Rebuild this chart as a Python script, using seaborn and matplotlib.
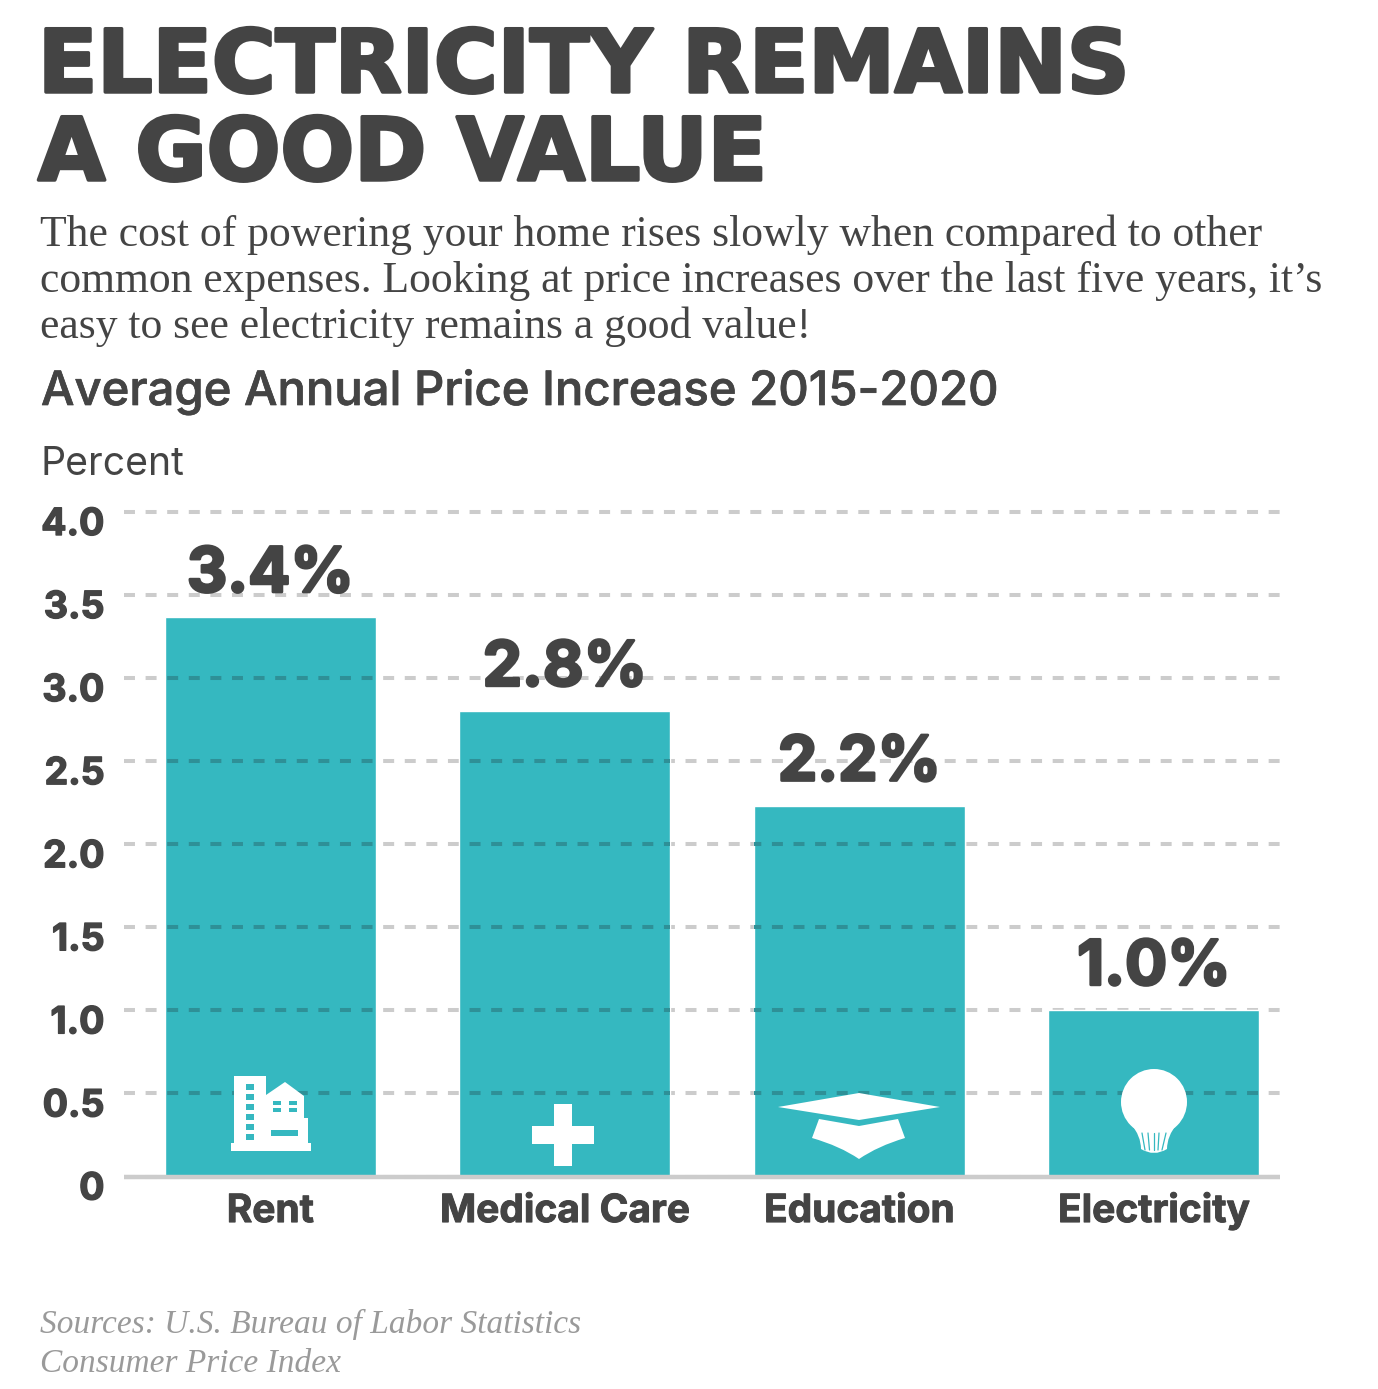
import numpy as np
import pandas as pd
import matplotlib
matplotlib.use('Agg')
import matplotlib.pyplot as plt
import matplotlib.patheffects as pe
import seaborn as sns
from matplotlib.patches import Circle, PathPatch, Polygon, Rectangle
from matplotlib.path import Path
from matplotlib.transforms import Affine2D, ScaledTranslation

categories = ['Rent', 'Medical Care', 'Education', 'Electricity']
increase = [3.365, 2.8, 2.23, 1.0]
value_labels = ['3.4%', '2.8%', '2.2%', '1.0%']
y_ticks = [0, 0.5, 1.0, 1.5, 2.0, 2.5, 3.0, 3.5, 4.0]
y_tick_labels = ['0', '0.5', '1.0', '1.5', '2.0', '2.5', '3.0', '3.5', '4.0']

title_lines = ['ELECTRICITY REMAINS', 'A GOOD VALUE']
intro_lines = [
    'The cost of powering your home rises slowly when compared to other',
    'common expenses. Looking at price increases over the last five years, it\u2019s',
    'easy to see electricity remains a good value!',
]
heading = 'Average Annual Price Increase 2015-2020'
unit = 'Percent'
source_lines = ['Sources: U.S. Bureau of Labor Statistics', 'Consumer Price Index']

W, H = 1378, 1389
TEAL = '#35b8c0'
TEAL_DARK = '#2e9097'
GREY = '#cccccc'
INK = '#444444'
SANS = 'Inter'
SERIF = 'Liberation Serif'
X_RANGE = (-0.4966, 3.4284)

sns.set_theme(style='white')
plt.rcParams['font.family'] = [SANS, 'DejaVu Sans']
plt.rcParams['lines.scale_dashes'] = False
plt.rcParams['lines.dash_capstyle'] = 'butt'


def heavier(width):
    # the installed bold is lighter than the original face
    return [pe.withStroke(linewidth=width, foreground=INK)]


fig = plt.figure(figsize=(W / 100, H / 100), dpi=100, facecolor='white')
ax = fig.add_axes([124 / W, 1 - 1176.5 / H, (1280 - 124) / W, (1176.5 - 512) / H])

df = pd.DataFrame({'category': categories, 'increase': increase})
sns.barplot(data=df, x='category', y='increase', color=TEAL, saturation=1,
            width=0.716, ax=ax, zorder=2)

ax.set_xlim(*X_RANGE)
ax.set_ylim(0, 4)
ax.set_xlabel('')
ax.set_ylabel('')

dash = (0, (7.9, 7.65))
ax.set_yticks(y_ticks)
ax.set_yticklabels(y_tick_labels)
ax.grid(axis='y', color=GREY, lw=2.9, ls=dash, zorder=1)
ax.set_axisbelow(True)
for line in ax.get_ygridlines():
    line.set_clip_on(False)

# grid shows through the bars in a darker tone
for bar in ax.patches:
    for t in y_ticks[1:]:
        if t < bar.get_height():
            seg, = ax.plot(X_RANGE, [t, t], color=TEAL_DARK, lw=2.9, ls=dash, zorder=3)
            seg.set_clip_path(bar)

for name, spine in ax.spines.items():
    spine.set_visible(name == 'bottom')
ax.spines['bottom'].set_color(GREY)
ax.spines['bottom'].set_linewidth(3.2)
ax.spines['bottom'].set_capstyle('butt')
ax.spines['bottom'].set_zorder(4)

ax.tick_params(axis='x', length=0, pad=32.8, labelsize=28, labelcolor=INK)
ax.tick_params(axis='y', length=0, pad=14, labelsize=27, labelcolor=INK)
for lab in ax.get_xticklabels():
    lab.set_va('baseline')
    lab.set_fontweight('bold')
    lab.set_path_effects(heavier(0.7))
shift = ScaledTranslation(0, -9 / 72 * 0.72, fig.dpi_scale_trans)
for lab in ax.get_yticklabels():
    lab.set_fontweight('bold')
    lab.set_path_effects(heavier(1.0))
    lab.set_transform(lab.get_transform() + shift)

for bar, text in zip(ax.patches, value_labels):
    ax.annotate(text, (bar.get_x() + bar.get_width() / 2, bar.get_height()),
                xytext=(0, 18.4), textcoords='offset points', ha='center', va='baseline',
                fontsize=45, fontweight='bold', color=INK, path_effects=heavier(2.0))

# pixel coordinates measured from the top-left corner, for icons and text blocks
px = Affine2D().scale(1, -1).translate(0, H)


def icon(patch, color='white'):
    patch.set(transform=px, facecolor=color, edgecolor='none', clip_on=False, zorder=10)
    ax.add_patch(patch)


def box(x0, y0, x1, y1, color='white'):
    icon(Rectangle((x0, y0), x1 - x0, y1 - y0), color)


# building
box(231, 1143, 311, 1151)
box(234, 1076, 266, 1145)
icon(Polygon([(266, 1095), (285, 1082), (304, 1096), (304, 1118), (308, 1118), (308, 1145), (266, 1145)]))
for y in (1084, 1094, 1104, 1114, 1124, 1134):
    box(246, y, 254, y + 6, TEAL)
for x in (273, 289):
    for y in (1101, 1108):
        box(x, y, x + 8, y + 4, TEAL)
box(271, 1130, 298, 1136, TEAL)

# medical cross
box(554, 1104, 572, 1166)
box(532, 1126, 594, 1144)

# mortarboard
icon(Polygon([(778, 1107), (859, 1093), (940, 1107), (859, 1120)]))
icon(PathPatch(Path(
    [(819, 1119), (859, 1126), (898, 1119), (905, 1138), (878, 1146), (859, 1159), (840, 1146), (812, 1138), (819, 1119)],
    [Path.MOVETO, Path.LINETO, Path.LINETO, Path.LINETO, Path.CURVE3, Path.CURVE3, Path.CURVE3, Path.CURVE3, Path.LINETO])))

# light bulb
icon(Circle((1154, 1102), 33))
icon(PathPatch(Path(
    [(1131, 1124), (1141, 1136), (1141, 1149), (1154, 1157), (1167, 1149), (1167, 1136), (1177, 1124), (1131, 1124)],
    [Path.MOVETO, Path.CURVE3, Path.CURVE3, Path.CURVE3, Path.CURVE3, Path.CURVE3, Path.CURVE3, Path.CLOSEPOLY])))
for x0, x1 in ((1142, 1145), (1148, 1149.5), (1153.5, 1153.5), (1159, 1158), (1166, 1162)):
    ax.plot([x0, x1], [1133, 1150], transform=px, color=TEAL, lw=0.9, clip_on=False, zorder=11)


def put(x, y, text, **kw):
    fig.text(x / W, 1 - y / H, text, va='baseline', ha='left', **kw)


for y, line in zip((92, 180), title_lines):
    put(38, y, line, fontsize=62.5, fontweight='bold', family='DejaVu Sans', color=INK,
        path_effects=heavier(2.5))
for y, line in zip((246, 292, 338), intro_lines):
    put(40, y, line, fontsize=31.4, family=SERIF, color=INK)
put(41, 405, heading, fontsize=34, fontweight='medium', color=INK, path_effects=heavier(0.5))
put(40, 475, unit, fontsize=28.2, color=INK)
for y, line in zip((1333, 1372), source_lines):
    put(40, y, line, fontsize=24, family=SERIF, style='italic', color='#9a9a9a')

fig.savefig('out.png', dpi=100, facecolor='white')
